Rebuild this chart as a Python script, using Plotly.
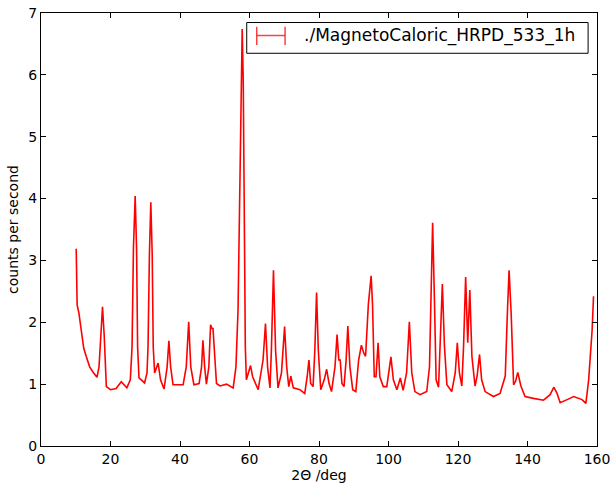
import plotly.graph_objects as go

two_theta = [
    10.13, 10.4, 10.9, 11.6, 12.3, 13.0, 14.0, 14.9, 16.1, 16.7, 17.2, 17.7, 18.2, 18.8, 20.0, 21.6,
    23.1, 24.7, 25.7, 26.2, 26.6, 27.1, 27.5, 27.8, 28.2, 29.8, 30.5, 30.8, 31.2, 31.6, 32.0, 32.3,
    32.7, 33.7, 34.4, 35.4,
    36.3, 36.8, 37.3, 38.0, 40.9, 41.8, 42.5, 43.1, 44.0, 45.5, 46.2, 46.6, 47.1, 47.6, 48.3, 48.8,
    49.2, 49.5, 50.0, 50.5, 51.5, 53.4, 55.3, 56.1, 56.7, 57.2, 57.6, 57.9, 58.2, 58.5, 58.8, 59.1,
    60.3, 60.9,
    62.5, 63.9, 64.6, 65.2, 65.9, 66.3, 66.9, 67.5, 68.2, 69.2, 70.1, 70.7, 71.3, 71.9, 72.6, 74.5,
    75.9, 76.6, 77.1, 77.6, 78.3, 78.8, 79.3, 79.8, 80.5, 81.5, 82.2, 82.9, 83.6, 84.6, 85.2, 85.7,
    86.1, 86.6, 87.2, 87.8, 88.3, 88.9, 89.7, 90.6, 91.4, 92.2, 92.9, 93.4, 94.2, 95.0, 95.4, 95.9,
    96.4, 97.0, 97.5, 98.5, 99.5, 100.1, 100.7, 101.4, 102.4, 103.4, 104.2, 105.2, 106.0, 106.7,
    107.6, 109.1, 111.0, 111.8, 112.2, 112.7, 113.2, 113.7, 114.4, 114.9, 115.5, 116.1, 116.8,
    118.2, 119.2, 119.8, 120.4, 121.1, 121.6, 122.2, 122.8, 123.4, 124.0, 124.9, 125.5, 126.2,
    126.8, 127.8, 130.2, 132.1, 133.6, 134.2, 134.7, 135.3, 136.0, 136.6, 137.2, 138.1, 139.3,
    141.7, 144.6, 146.5, 147.6, 148.5, 149.4, 151.4, 153.3, 155.7, 156.8, 157.6, 158.6, 159.0,
]
counts = [
    3.19, 2.28, 2.15, 1.82, 1.58, 1.45, 1.28, 1.20, 1.11, 1.28, 1.77, 2.25, 1.77, 0.96, 0.91, 0.93,
    1.04, 0.94, 1.07, 1.60, 3.20, 4.04, 3.20, 1.60, 1.10, 1.02, 1.18, 1.60, 3.10, 3.94, 3.10, 1.60,
    1.18, 1.34, 1.07, 0.92,
    1.28, 1.70, 1.28, 0.99, 0.99, 1.28, 2.01, 1.28, 0.99, 1.01, 1.28, 1.71, 1.28, 1.00, 1.28, 1.96,
    1.90, 1.90, 1.45, 1.01, 0.97, 1.00, 0.94, 1.28, 2.20, 4.20, 6.20, 6.74, 5.90, 3.60, 1.60, 1.07,
    1.30, 1.12,
    0.91, 1.39, 1.98, 1.28, 0.94, 1.55, 2.84, 1.55, 0.94, 1.18, 1.93, 1.28, 0.96, 1.13, 0.94, 0.91,
    0.85, 1.12, 1.39, 1.01, 0.96, 1.55, 2.48, 1.55, 0.91, 1.07, 1.24, 1.01, 0.88, 1.28, 1.80, 1.39,
    1.39, 1.01, 0.96, 1.39, 1.94, 1.28, 0.91, 0.88, 1.39, 1.63, 1.50, 1.45, 2.29, 2.75, 2.29, 1.12,
    1.12, 1.67, 1.12, 0.96, 0.96, 1.20, 1.44, 1.07, 0.91, 1.10, 0.90, 1.18, 2.01, 1.18,
    0.88, 0.83, 0.88, 1.28, 2.41, 3.61, 2.41, 1.07, 0.95, 1.61, 2.62, 1.61, 0.99,
    0.88, 1.18, 1.67, 1.18, 0.97, 1.61, 2.73, 1.67, 2.52, 1.45, 0.97, 1.13, 1.48,
    1.07, 0.88, 0.80, 0.85, 1.13, 2.14, 2.84, 2.14, 0.99, 1.05, 1.19, 0.97, 0.80,
    0.77, 0.74, 0.83, 0.95, 0.85, 0.70, 0.75, 0.80, 0.75, 0.69, 1.07, 1.88, 2.42,
]
legend_label = "./MagnetoCaloric_HRPD_533_1h"
x_ticks = [0, 20, 40, 60, 80, 100, 120, 140, 160]
y_ticks = [0, 1, 2, 3, 4, 5, 6, 7]

FONT = "DejaVu Sans"

fig = go.Figure()
fig.add_trace(go.Scatter(
    x=two_theta, y=counts, mode="lines",
    line=dict(color="#ff0000", width=1.6),
    showlegend=False,
))

axis_common = dict(
    showline=True, linecolor="black", linewidth=1, mirror="allticks",
    ticks="inside", ticklen=5, tickcolor="black", tickwidth=1,
    showgrid=False, zeroline=False, automargin=False,
    tickfont=dict(family=FONT, size=14, color="black"),
)

fig.update_layout(
    width=614, height=486,
    margin=dict(l=41, r=17, t=13, b=40),
    paper_bgcolor="white", plot_bgcolor="white",
    xaxis=dict(range=[0, 160], tickvals=x_ticks,
               title=dict(text="2\u0398 /deg", font=dict(family=FONT, size=14, color="black"), standoff=4),
               **axis_common),
    yaxis=dict(range=[0, 7], tickvals=y_ticks,
               title=dict(text="counts per second", font=dict(family=FONT, size=14, color="black"), standoff=6),
               **axis_common),
)

# manual legend with an error-bar glyph
lc = "rgba(255,0,0,0.75)"
shapes = [
    dict(type="rect", xref="paper", yref="paper", x0=0.370, x1=0.984, y0=0.907, y1=0.978,
         line=dict(color="black", width=1), fillcolor="white"),
    dict(type="line", xref="paper", yref="paper", x0=0.388, x1=0.439, y0=0.948, y1=0.948,
         line=dict(color=lc, width=1.5)),
    dict(type="line", xref="paper", yref="paper", x0=0.388, x1=0.388, y0=0.926, y1=0.968,
         line=dict(color=lc, width=1.5)),
    dict(type="line", xref="paper", yref="paper", x0=0.439, x1=0.439, y0=0.926, y1=0.968,
         line=dict(color=lc, width=1.5)),
]
fig.update_layout(shapes=shapes)
fig.add_annotation(xref="paper", yref="paper", x=0.470, y=0.948, xanchor="left", yanchor="middle",
                   text=legend_label, showarrow=False,
                   font=dict(family=FONT, size=17, color="black"))

fig.write_html("out.html", config={"displayModeBar": False},
               post_script="document.body.style.margin='0';document.body.style.overflow='hidden';")
